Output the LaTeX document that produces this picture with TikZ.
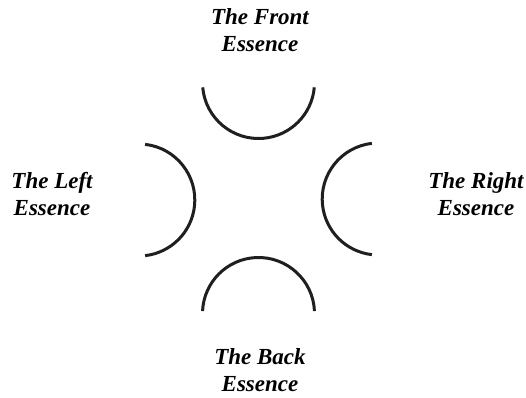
\documentclass[tikz,border=0pt]{standalone}
\usepackage{fontspec}
\setmainfont{Liberation Serif}
\begin{document}
\begin{tikzpicture}[x=1pt,y=1pt,
  lbl/.style={font=\fontsize{23}{26.5}\selectfont\bfseries\itshape, align=center, inner sep=0pt, text=black},
  essarc/.style={line width=3pt, draw=black!88}]
\useasboundingbox (0,0) rectangle (526,397);
% arcs (picture y = 397 - pixel y)
\draw[essarc] ([shift={(185:56)}]258.5,314.5) arc[start angle=185, end angle=355, radius=56];
\draw[essarc] ([shift={(2.5:56)}]258.5,83.5) arc[start angle=2.5, end angle=177.5, radius=56];
\draw[essarc] ([shift={(83.5:56)}]138.8,197) arc[start angle=83.5, end angle=-83.5, radius=56];
\draw[essarc] ([shift={(96.5:56)}]378.2,198) arc[start angle=96.5, end angle=263.5, radius=56];
% labels
\node[lbl] (front) at (260,367) {The Front\\Essence};
\node[lbl] (left) at (52,203) {The Left\\Essence};
\node[lbl] (right) at (476,203) {The Right\\Essence};
\node[lbl] (back) at (260,27) {The Back\\Essence};
\end{tikzpicture}
\end{document}
